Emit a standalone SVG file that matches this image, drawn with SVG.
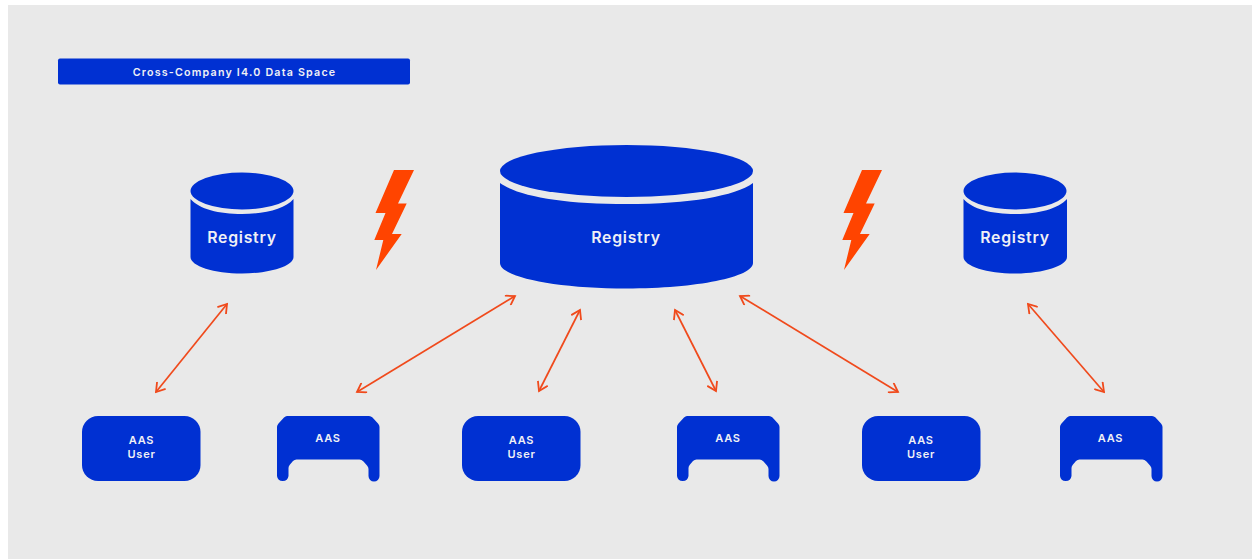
<svg xmlns="http://www.w3.org/2000/svg" width="1252" height="559" viewBox="0 0 1252 559">
<defs>
<style>
.b{fill:#0030d2}
.t{fill:#f0f0f5;font-family:Inter,"Liberation Sans",sans-serif;font-weight:600;text-anchor:middle}
.s{font-size:11px;letter-spacing:.8px}
.r{font-size:15.800px;letter-spacing:.75px}
.h{font-size:10.700px;letter-spacing:1.2px}
.c{fill:none;stroke:#f04a1c;stroke-width:1.7;marker-start:url(#a);marker-end:url(#a)}
.bolt{fill:#ff4400}
</style>
<marker id="a" viewBox="-10 -6 12 12" refX="0" refY="0" markerUnits="userSpaceOnUse" markerWidth="12" markerHeight="12" orient="auto-start-reverse">
<path d="M-8.500-5.500L0 0L-8.500 5.500" fill="none" stroke="#f04a1c" stroke-width="1.8"/>
</marker>
<path id="m" d="M287 416H369Q371 416 372.500 417.500L378 423.500Q379.500 425 379.500 427V476A5.500 5.500 0 0 1 368.500 476V469Q368.500 467 367 465.500L363.500 461.500Q361.500 459.500 359.500 459.500H296.500Q294.500 459.500 293 461L290 464.500Q288.500 466 288.500 468V476A5.800 5.800 0 0 1 277 476V427Q277 425 278.500 423.500L284 417.500Q285.500 416 287 416Z"/>
<rect id="u" width="118.500" height="65" rx="16"/>
</defs>
<rect x="8" y="5" width="1244" height="554" fill="#e9e9e9"/>
<g id="title"><rect class="b" x="58" y="58.500" width="352" height="26" rx="2"/><text class="t h" x="234.500" y="75.500">Cross-Company I4.0 Data Space</text></g>
<g id="registry-left">
<path class="b" d="M190.500 199V257C190.500 266 214 273.500 242 273.500S293.500 266 293.500 257V199C285 209 265 214 242 214S199 209 190.500 199Z"/>
<ellipse class="b" cx="242" cy="191" rx="51.500" ry="18.500"/>
<text class="t r" x="242" y="243">Registry</text>
</g>
<g id="registry-center">
<path class="b" d="M500 183V263C500 277 556 288.500 626.500 288.500S753 277 753 263V183C735 196 690 204 626.500 204S518 196 500 183Z"/>
<ellipse class="b" cx="626.500" cy="171" rx="126.500" ry="26"/>
<text class="t r" x="626" y="243">Registry</text>
</g>
<g id="registry-right">
<path class="b" d="M963.500 199V257C963.500 266 987 273.500 1015 273.500S1067 266 1067 257V199C1058 209 1038 214 1015 214S972 209 963.500 199Z"/>
<ellipse class="b" cx="1015" cy="191" rx="51.500" ry="18.500"/>
<text class="t r" x="1015" y="243">Registry</text>
</g>
<g id="bolt-left"><path class="bolt" d="M394 170H414L398 203.500H406.700L392 234H401.700L376 270L383.300 240H374.300L385.500 213H375.500Z"/></g>
<g id="bolt-right"><path class="bolt" d="M862 170H882L866 203.500H874.700L860 234H869.700L844 270L851.300 240H842.300L853.500 213H843.500Z"/></g>
<g id="connectors">
<path class="c" d="M156 392L227 304"/>
<path class="c" d="M357 392L515 296"/>
<path class="c" d="M539 391L580 310"/>
<path class="c" d="M675 310L716 391"/>
<path class="c" d="M740 296L898 392"/>
<path class="c" d="M1028 304L1104 392"/>
</g>
<g id="user-1"><use href="#u" class="b" x="82" y="416"/><text class="t s" x="141.500" y="444">AAS</text><text class="t s" x="141.500" y="458">User</text></g>
<g id="aas-1"><use href="#m" class="b"/><text class="t s" x="328" y="442">AAS</text></g>
<g id="user-2"><use href="#u" class="b" x="462" y="416"/><text class="t s" x="521.500" y="444">AAS</text><text class="t s" x="521.500" y="458">User</text></g>
<g id="aas-2"><use href="#m" class="b" x="400"/><text class="t s" x="728" y="442">AAS</text></g>
<g id="user-3"><use href="#u" class="b" x="862" y="416"/><text class="t s" x="921" y="444">AAS</text><text class="t s" x="921" y="458">User</text></g>
<g id="aas-3"><use href="#m" class="b" x="783"/><text class="t s" x="1110.500" y="442">AAS</text></g>
</svg>
